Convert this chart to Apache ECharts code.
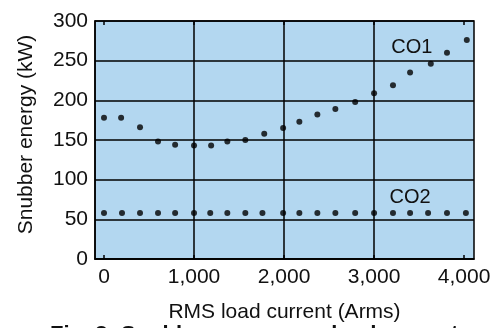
<!DOCTYPE html>
<html>
<head>
<meta charset="utf-8">
<script src="https://cdn.jsdelivr.net/npm/echarts@6/dist/echarts.min.js"></script>
<style>
  html, body { margin: 0; padding: 0; background: #fff; }
  #chart { width: 494px; height: 328px; }
</style>
</head>
<body>
<div id="chart"></div>
<script>
// CO1 readings (load current in Arms, snubber energy in kW)
const co1Current = [0, 190, 400, 600, 790, 1000, 1190, 1370, 1570, 1780, 1990, 2170, 2370, 2570, 2790, 3000, 3210, 3400, 3630, 3810, 4030]
const co1Energy = [178, 178, 166, 148, 144, 143, 143, 148, 150, 158, 165, 173, 182, 189, 198, 209, 219, 235, 246, 260, 276]

// CO2 readings
const co2Current = [0, 200, 400, 600, 790, 1000, 1180, 1370, 1570, 1760, 1990, 2170, 2370, 2570, 2790, 3000, 3210, 3400, 3600, 3810, 4020]
const co2Energy = [58, 58, 58, 58, 58, 58, 58, 58, 58, 58, 58, 58, 58, 58, 58, 58, 58, 58, 58, 58, 58]

const xLabels = [0, 1000, 2000, 3000, 4000]
const xGrid = [1000, 2000, 3000]

const font = 'Liberation Sans, Arial, sans-serif'

const chart = echarts.init(document.getElementById('chart'))

chart.setOption({
  animation: false,
  grid: {
    left: 95, right: 20, top: 21, bottom: 68,
    show: true,
    backgroundColor: '#b3d7f0',
    borderColor: '#000',
    borderWidth: 1.5
  },
  xAxis: [
    {
      type: 'value',
      min: -100,
      max: 4110,
      name: 'RMS load current (Arms)',
      nameLocation: 'middle',
      nameGap: 43,
      nameTextStyle: { fontFamily: font, fontSize: 21, color: '#111' },
      axisLine: { show: true, onZero: false, lineStyle: { color: '#000', width: 1.5 } },
      axisTick: { show: true, inside: true, length: 4, customValues: xLabels, lineStyle: { color: '#000', width: 1.5 } },
      axisLabel: {
        customValues: xLabels,
        fontFamily: font, fontSize: 21, color: '#111', margin: 8,
        formatter: v => v.toLocaleString('en-US')
      },
      splitLine: { show: false }
    },
    {
      // hidden helper axis carrying the vertical grid lines
      type: 'value',
      min: -100,
      max: 4110,
      position: 'bottom',
      axisLine: { show: false, onZero: false },
      axisTick: { show: false, customValues: xGrid },
      axisLabel: { show: false, customValues: xGrid },
      splitLine: { show: true, lineStyle: { color: '#000', width: 1.5 } }
    },
    {
      // top edge: small inward ticks only
      type: 'value',
      min: -100,
      max: 4110,
      position: 'top',
      axisLine: { show: false, onZero: false },
      axisTick: { show: true, inside: true, length: 4, customValues: xLabels, lineStyle: { color: '#000', width: 1.5 } },
      axisLabel: { show: false, customValues: xLabels },
      splitLine: { show: false }
    }
  ],
  yAxis: {
    type: 'value',
    min: 0,
    max: 300,
    interval: 50,
    name: 'Snubber energy (kW)',
    nameLocation: 'middle',
    nameGap: 58,
    nameTextStyle: { fontFamily: font, fontSize: 21, color: '#111', padding: [0, 0, 0, 11] },
    axisLine: { show: true, onZero: false, lineStyle: { color: '#000', width: 1.5 } },
    axisTick: { show: false },
    axisLabel: { fontFamily: font, fontSize: 21, color: '#111', margin: 7 },
    splitLine: { show: true, lineStyle: { color: '#000', width: 1.5 } }
  },
  series: [
    {
      name: 'CO1',
      type: 'scatter',
      symbolSize: 6,
      itemStyle: { color: '#000' },
      data: co1Current.map((c, i) => [c, co1Energy[i]]),
      z: 5,
      markPoint: {
        symbolSize: 0,
        label: { show: true, position: 'inside', formatter: 'CO1', fontFamily: font, fontSize: 20, color: '#111' },
        data: [{ coord: [3420, 266] }]
      }
    },
    {
      name: 'CO2',
      type: 'scatter',
      symbolSize: 6,
      itemStyle: { color: '#000' },
      data: co2Current.map((c, i) => [c, co2Energy[i]]),
      z: 5,
      markPoint: {
        symbolSize: 0,
        label: { show: true, position: 'inside', formatter: 'CO2', fontFamily: font, fontSize: 20, color: '#111' },
        data: [{ coord: [3400, 77] }]
      }
    }
  ],
  graphic: [
    {
      // caption of the source figure, cut off at the bottom edge
      type: 'text',
      left: 50,
      top: 324,
      style: {
        text: 'Fig. 3: Snubber energy vs. load current',
        fontFamily: font,
        fontWeight: 'bold',
        fontSize: 22,
        fill: '#111'
      }
    }
  ]
})

window.addEventListener('resize', () => chart.resize())
</script>
</body>
</html>
